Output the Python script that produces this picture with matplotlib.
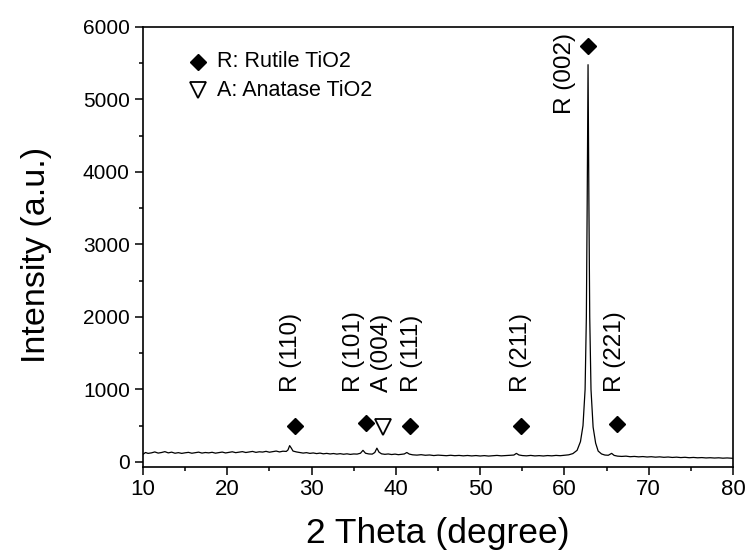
import matplotlib
matplotlib.use("Agg")
import matplotlib.pyplot as plt
from matplotlib.ticker import MultipleLocator

plt.rcParams["font.family"] = ["Liberation Sans", "DejaVu Sans"]

# XRD pattern (2 theta in degree, intensity a.u.)
two_theta = [
    10.0, 10.3, 10.6, 11.0, 11.4, 11.8, 12.2, 12.6, 13.0, 13.4, 13.8, 14.2, 14.6,
    15.0, 15.4, 15.8, 16.2, 16.6, 17.0, 17.4, 17.8, 18.2, 18.6, 19.0, 19.4, 19.8,
    20.2, 20.6, 21.0, 21.4, 21.8, 22.2, 22.6, 23.0, 23.4, 23.8, 24.2, 24.6, 25.0,
    25.4, 25.8, 26.2, 26.6, 27.0, 27.2, 27.4, 27.6, 27.8, 28.2, 28.6, 29.0, 29.4,
    29.8, 30.2, 30.6, 31.0, 31.4, 31.8, 32.2, 32.6, 33.0, 33.4, 33.8, 34.2, 34.6,
    35.0, 35.4, 35.8, 36.1, 36.4, 36.8, 37.2, 37.5, 37.75, 38.0, 38.3, 38.7, 39.1,
    39.5, 39.9, 40.3, 40.7, 41.0, 41.3, 41.6, 42.0, 42.5, 43.0, 43.5, 44.0, 44.5,
    45.0, 45.5, 46.0, 46.5, 47.0, 47.5, 48.0, 48.5, 49.0, 49.5, 50.0, 50.5, 51.0,
    51.5, 52.0, 52.5, 53.0, 53.5, 54.0, 54.3, 54.6, 55.0, 55.5, 56.0, 56.5, 57.0,
    57.5, 58.0, 58.5, 59.0, 59.5, 60.0, 60.5, 61.0, 61.5, 61.9, 62.2, 62.45, 62.6,
    62.7, 62.8, 62.9, 63.0, 63.15, 63.4, 63.7, 64.0, 64.4, 64.8, 65.2, 65.6, 65.9,
    66.3, 66.8, 67.3, 67.8, 68.3, 68.8, 69.3, 69.8, 70.3, 70.8, 71.3, 71.8, 72.3,
    72.8, 73.3, 73.8, 74.3, 74.8, 75.3, 75.8, 76.3, 76.8, 77.3, 77.8, 78.3, 78.8,
    79.3, 80.0,
]
intensity = [
    105, 130, 118, 125, 138, 122, 130, 142, 125, 135, 120, 128, 118,
    126, 132, 120, 128, 135, 122, 130, 125, 133, 121, 128, 136, 124,
    132, 140, 128, 135, 142, 130, 138, 145, 132, 140, 136, 146, 134,
    142, 150, 138, 148, 145, 165, 225, 190, 150, 138, 130, 122, 128,
    118, 124, 115, 122, 112, 118, 110, 116, 108, 114, 106, 112, 104,
    110, 108, 120, 160, 120, 110, 108, 130, 190, 135, 112, 105, 110,
    102, 108, 100, 106, 110, 130, 108, 98, 94, 100, 92, 96, 88,
    94, 90, 86, 92, 86, 90, 84, 89, 83, 88, 82, 87, 81,
    86, 90, 84, 88, 92, 95, 118, 96, 88, 84, 90, 83, 87,
    82, 88, 84, 90, 86, 92, 98, 115, 160, 280, 500, 1000, 2000,
    3600, 5480, 3600, 2000, 1000, 480, 260, 150, 110, 95, 92, 118, 90,
    80, 76, 80, 72, 76, 70, 74, 68, 72, 66, 70, 64, 68,
    62, 66, 60, 64, 58, 62, 57, 60, 55, 58, 54, 57, 52,
    55, 50,
]

# phase markers above the peaks
rutile_x = [28.0, 36.5, 41.7, 54.9, 66.2, 62.8]
rutile_y = [490, 540, 490, 490, 525, 5740]
anatase_x = [38.5]
anatase_y = [485]

# rotated hkl labels: x position, bottom y, text
label_x = [27.6, 35.0, 38.3, 41.9, 54.9, 66.0, 60.1]
label_y = [960, 960, 960, 960, 960, 960, 4800]
label_text = ["R (110)", "R (101)", "A (004)", "R (111)", "R (211)", "R (221)", "R (002)"]

fig = plt.figure(figsize=(7.47, 5.53), dpi=100)
ax = fig.add_axes([0.1914, 0.1555, 0.7899, 0.7957])

ax.plot(two_theta, intensity, color="black", lw=0.9)
ax.plot(rutile_x, rutile_y, "D", color="black", ms=8, ls="none")
ax.plot(anatase_x, anatase_y, "v", mfc="white", mec="black", mew=1.3, ms=12, ls="none")

for x, y, t in zip(label_x, label_y, label_text):
    ax.text(x, y, t, rotation=90, ha="center", va="bottom", fontsize=17.5)

# legend drawn by hand like the original
ax.plot([16.5], [5520], "D", color="black", ms=8)
ax.plot([16.5], [5130], "v", mfc="white", mec="black", mew=1.3, ms=12)
ax.text(18.8, 5520, "R: Rutile TiO2", va="center", ha="left", fontsize=15.5)
ax.text(18.8, 5130, "A: Anatase TiO2", va="center", ha="left", fontsize=15.5)

ax.set_xlim(10, 80)
ax.set_ylim(-70, 6000)
ax.xaxis.set_major_locator(MultipleLocator(10))
ax.xaxis.set_minor_locator(MultipleLocator(5))
ax.yaxis.set_major_locator(MultipleLocator(1000))
ax.yaxis.set_minor_locator(MultipleLocator(500))
ax.tick_params(which="both", direction="out", width=1.1)
ax.tick_params(which="major", length=5.5)
ax.tick_params(which="minor", length=3)
ax.tick_params(axis="x", labelsize=16, pad=3)
ax.tick_params(axis="y", labelsize=15, pad=4)
for sp in ax.spines.values():
    sp.set_linewidth(1.2)

ax.set_xlabel("2 Theta (degree)", fontsize=25.5)
ax.set_ylabel("Intensity (a.u.)", fontsize=24.5)
ax.xaxis.set_label_coords(0.5, -0.114)
ax.yaxis.set_label_coords(-0.154, 0.482)

fig.savefig("out.png", dpi=100)
